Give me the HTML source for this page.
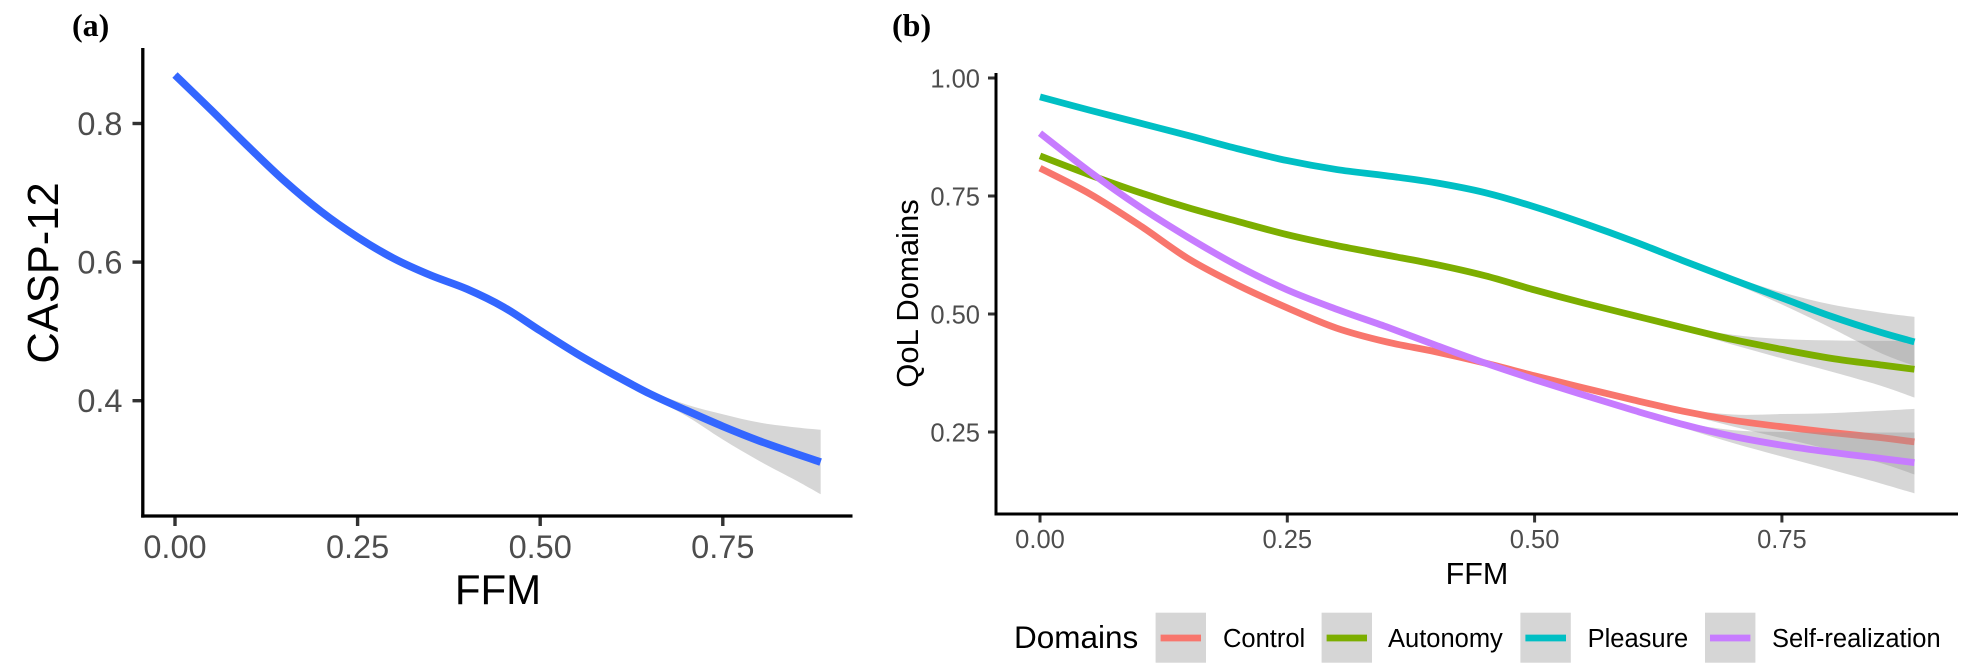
<!DOCTYPE html>
<html lang="en">
<head>
<meta charset="utf-8">
<title>CASP-12 and QoL Domains by FFM</title>
<style>
html,body{margin:0;padding:0;background:#fff;width:1984px;height:669px;overflow:hidden}
svg{display:block}
text{font-family:"Liberation Sans",Arial,sans-serif}
</style>
</head>
<body>
<svg id="chart" xmlns="http://www.w3.org/2000/svg" width="1984" height="669" viewBox="0 0 1984 669"></svg>
<script>
/* ---------- shared data ---------- */
const ffm = [0,0.05,0.10,0.15,0.20,0.25,0.30,0.35,0.40,0.45,0.50,0.55,0.60,0.65,0.70,0.75,0.80,0.85,0.884];

/* ---------- panel (a) ---------- */
const caspValues = [0.870,0.819,0.767,0.717,0.673,0.636,0.605,0.581,0.561,0.535,0.501,0.468,0.438,0.410,0.386,0.363,0.342,0.3235,0.3115];
const caspUpper  = [0.872,0.821,0.769,0.719,0.675,0.638,0.607,0.583,0.563,0.537,0.503,0.470,0.442,0.4145,0.3945,0.3805,0.3685,0.3615,0.358];
const caspLower  = [0.868,0.817,0.765,0.715,0.671,0.634,0.603,0.579,0.559,0.533,0.499,0.466,0.434,0.4055,0.378,0.344,0.313,0.285,0.265];
const leftXTicks = [0,0.25,0.50,0.75];
const leftXTickLabels = ["0.00","0.25","0.50","0.75"];
const leftYTicks = [0.4,0.6,0.8];
const leftYTickLabels = ["0.4","0.6","0.8"];

/* ---------- panel (b) ---------- */
const controlValues  = [0.809,0.755,0.689,0.617,0.561,0.513,0.470,0.441,0.420,0.396,0.369,0.343,0.318,0.294,0.275,0.261,0.249,0.238,0.229];
const controlUpper   = [0.811,0.757,0.691,0.619,0.563,0.515,0.472,0.443,0.422,0.398,0.371,0.345,0.320,0.299,0.287,0.288,0.290,0.295,0.299];
const controlLower   = [0.807,0.753,0.687,0.615,0.559,0.511,0.468,0.439,0.418,0.394,0.367,0.341,0.316,0.289,0.262,0.237,0.212,0.184,0.160];
const autonomyValues = [0.835,0.795,0.758,0.725,0.696,0.668,0.645,0.625,0.605,0.581,0.551,0.523,0.497,0.471,0.446,0.425,0.406,0.392,0.383];
const autonomyUpper  = [0.837,0.797,0.760,0.727,0.698,0.670,0.647,0.627,0.607,0.583,0.553,0.525,0.499,0.474,0.456,0.447,0.444,0.443,0.443];
const autonomyLower  = [0.833,0.793,0.756,0.723,0.694,0.666,0.643,0.623,0.603,0.579,0.549,0.521,0.495,0.466,0.435,0.406,0.378,0.348,0.323];
const pleasureValues = [0.960,0.932,0.905,0.878,0.850,0.825,0.806,0.793,0.778,0.757,0.727,0.692,0.654,0.613,0.573,0.534,0.495,0.461,0.441];
const pleasureUpper  = [0.962,0.934,0.907,0.880,0.852,0.827,0.808,0.795,0.780,0.759,0.729,0.694,0.656,0.617,0.579,0.546,0.520,0.503,0.494];
const pleasureLower  = [0.958,0.930,0.903,0.876,0.848,0.823,0.804,0.791,0.776,0.755,0.725,0.690,0.652,0.609,0.566,0.520,0.470,0.417,0.390];
const selfValues     = [0.883,0.802,0.728,0.662,0.602,0.551,0.510,0.473,0.434,0.396,0.361,0.328,0.296,0.266,0.241,0.222,0.207,0.194,0.185];
const selfUpper      = [0.885,0.804,0.730,0.664,0.604,0.553,0.512,0.475,0.436,0.398,0.363,0.330,0.298,0.271,0.254,0.250,0.249,0.249,0.249];
const selfLower      = [0.881,0.800,0.726,0.660,0.600,0.549,0.508,0.471,0.432,0.394,0.359,0.326,0.294,0.259,0.227,0.198,0.170,0.141,0.120];
const rightXTicks = [0,0.25,0.50,0.75];
const rightXTickLabels = ["0.00","0.25","0.50","0.75"];
const rightYTicks = [0.25,0.50,0.75,1.00];
const rightYTickLabels = ["0.25","0.50","0.75","1.00"];

/* ---------- axis functions ---------- */
function xA(v){return 175 + v*730.4;}
function yA(v){return 400.7 - (v-0.4)*693;}
function xB(v){return 1040 + v*989.2;}
function yB(v){return 78 + (1-v)*472;}

const svg = document.getElementById('chart');
const NS = 'http://www.w3.org/2000/svg';
function mk(tag, attrs, parent){
  const el = document.createElementNS(NS, tag);
  for (const k in attrs) el.setAttribute(k, attrs[k]);
  (parent||svg).appendChild(el);
  return el;
}
function txt(str, attrs, parent){
  const el = mk('text', attrs, parent);
  el.textContent = str;
  return el;
}
function smooth(pts, move){
  let d = (move?'M':'L') + pts[0][0].toFixed(2) + ' ' + pts[0][1].toFixed(2);
  for (let i=0;i<pts.length-1;i++){
    const p0=pts[Math.max(i-1,0)],p1=pts[i],p2=pts[i+1],p3=pts[Math.min(i+2,pts.length-1)];
    const c1x=p1[0]+(p2[0]-p0[0])/6,c1y=p1[1]+(p2[1]-p0[1])/6;
    const c2x=p2[0]-(p3[0]-p1[0])/6,c2y=p2[1]-(p3[1]-p1[1])/6;
    d+='C'+c1x.toFixed(2)+' '+c1y.toFixed(2)+' '+c2x.toFixed(2)+' '+c2y.toFixed(2)+' '+p2[0].toFixed(2)+' '+p2[1].toFixed(2);
  }
  return d;
}
function linePath(xs, ys, fx, fy){
  return smooth(xs.map((x,i)=>[fx(x),fy(ys[i])]), true);
}
function ribbonPath(xs, hi, lo, fx, fy){
  const up = xs.map((x,i)=>[fx(x),fy(hi[i])]);
  const dn = xs.map((x,i)=>[fx(x),fy(lo[i])]).reverse();
  return smooth(up,true) + smooth(dn,false) + 'Z';
}

/* ---------- panel (a) drawing ---------- */
const panelA = mk('g',{});



const ribbonA = mk('path',{d:ribbonPath(ffm,caspUpper,caspLower,xA,yA),fill:'#d6d6d6',stroke:'none'},panelA);



const lineA = mk('path',{d:linePath(ffm,caspValues,xA,yA),fill:'none',stroke:'#3366FF',"stroke-width":7.6},panelA);



leftXTicks.forEach((t,i)=>{
  const tick = mk('line',{x1:xA(t),x2:xA(t),y1:516,y2:526,stroke:'#333',"stroke-width":3.4},panelA);
  
  
  const lab = txt(leftXTickLabels[i],{x:xA(t),y:558,"text-anchor":'middle',"font-size":32.5,fill:'#4d4d4d'},panelA);
  
  
});
leftYTicks.forEach((t,i)=>{
  const tick = mk('line',{x1:132.5,x2:143,y1:yA(t),y2:yA(t),stroke:'#333',"stroke-width":3.4},panelA);
  
  
  const lab = txt(leftYTickLabels[i],{x:122.5,y:yA(t)+11.5,"text-anchor":'end',"font-size":32.5,fill:'#4d4d4d'},panelA);
  
  
});

const yAxisA = mk('line',{x1:142.8,x2:142.8,y1:48,y2:517.6,stroke:'#000',"stroke-width":3.3},panelA);


const xAxisA = mk('line',{x1:141.2,x2:852.5,y1:516,y2:516,stroke:'#000',"stroke-width":3.3},panelA);



const xTitleA = txt('FFM',{x:498,y:604,"text-anchor":'middle',"font-size":42,fill:'#000'},panelA);


const yTitleA = txt('CASP-12',{x:0,y:0,transform:'translate(58 273) rotate(-90)',"text-anchor":'middle',"font-size":43.5,fill:'#000'},panelA);


const tagA = txt('(a)',{x:72,y:36,"font-size":32,"font-weight":'bold',fill:'#000',style:'font-family:"Liberation Serif",serif'},panelA);



/* ---------- panel (b) drawing ---------- */
const panelB = mk('g',{});



const colorControl = '#F8766D', colorAutonomy = '#7CAE00', colorPleasure = '#00BFC4', colorSelf = '#C77CFF';

const bandControl = mk('path',{d:ribbonPath(ffm,controlUpper,controlLower,xB,yB),fill:'#999',"fill-opacity":0.4},panelB);


const lineControl = mk('path',{d:linePath(ffm,controlValues,xB,yB),fill:'none',stroke:colorControl,"stroke-width":6.8},panelB);



const bandAutonomy = mk('path',{d:ribbonPath(ffm,autonomyUpper,autonomyLower,xB,yB),fill:'#999',"fill-opacity":0.4},panelB);


const lineAutonomy = mk('path',{d:linePath(ffm,autonomyValues,xB,yB),fill:'none',stroke:colorAutonomy,"stroke-width":6.8},panelB);



const bandPleasure = mk('path',{d:ribbonPath(ffm,pleasureUpper,pleasureLower,xB,yB),fill:'#999',"fill-opacity":0.4},panelB);


const linePleasure = mk('path',{d:linePath(ffm,pleasureValues,xB,yB),fill:'none',stroke:colorPleasure,"stroke-width":6.8},panelB);



const bandSelf = mk('path',{d:ribbonPath(ffm,selfUpper,selfLower,xB,yB),fill:'#999',"fill-opacity":0.4},panelB);


const lineSelf = mk('path',{d:linePath(ffm,selfValues,xB,yB),fill:'none',stroke:colorSelf,"stroke-width":6.8},panelB);



rightXTicks.forEach((t,i)=>{
  const tick = mk('line',{x1:xB(t),x2:xB(t),y1:514,y2:522.5,stroke:'#333',"stroke-width":3},panelB);
  
  
  const lab = txt(rightXTickLabels[i],{x:xB(t),y:548,"text-anchor":'middle',"font-size":25.5,fill:'#4d4d4d'},panelB);
  
  
});
rightYTicks.forEach((t,i)=>{
  const tick = mk('line',{x1:988,x2:996,y1:yB(t),y2:yB(t),stroke:'#333',"stroke-width":3},panelB);
  
  
  const lab = txt(rightYTickLabels[i],{x:980,y:yB(t)+9.7,"text-anchor":'end',"font-size":25.5,fill:'#4d4d4d'},panelB);
  
  
});

const yAxisB = mk('line',{x1:996,x2:996,y1:73,y2:515.5,stroke:'#000',"stroke-width":3},panelB);


const xAxisB = mk('line',{x1:994.5,x2:1958,y1:514,y2:514,stroke:'#000',"stroke-width":3},panelB);



const xTitleB = txt('FFM',{x:1477,y:584,"text-anchor":'middle',"font-size":30.5,fill:'#000'},panelB);


const yTitleB = txt('QoL Domains',{x:0,y:0,transform:'translate(918 293.5) rotate(-90)',"text-anchor":'middle',"font-size":31,fill:'#000'},panelB);


const tagB = txt('(b)',{x:892,y:36,"font-size":32,"font-weight":'bold',fill:'#000',style:'font-family:"Liberation Serif",serif'},panelB);



/* ---------- legend ---------- */
const legend = mk('g',{});


const legendTitle = txt('Domains',{x:1014,y:648,"font-size":31.5,fill:'#000'},legend);



const keyControl = mk('rect',{x:1155.6,y:612.7,width:50.4,height:50,fill:'#d6d6d6'},legend);


const swatchControl = mk('line',{x1:1160.6,x2:1201,y1:638,y2:638,stroke:colorControl,"stroke-width":6.8},legend);


const labelControl = txt('Control',{x:1223,y:647,"font-size":25.5,fill:'#000'},legend);



const keyAutonomy = mk('rect',{x:1321.6,y:612.7,width:50.4,height:50,fill:'#d6d6d6'},legend);


const swatchAutonomy = mk('line',{x1:1326.6,x2:1367,y1:638,y2:638,stroke:colorAutonomy,"stroke-width":6.8},legend);


const labelAutonomy = txt('Autonomy',{x:1388,y:647,"font-size":25.5,fill:'#000'},legend);



const keyPleasure = mk('rect',{x:1520.4,y:612.7,width:50.4,height:50,fill:'#d6d6d6'},legend);


const swatchPleasure = mk('line',{x1:1525.4,x2:1566,y1:638,y2:638,stroke:colorPleasure,"stroke-width":6.8},legend);


const labelPleasure = txt('Pleasure',{x:1587.6,y:647,"font-size":25.5,fill:'#000'},legend);



const keySelf = mk('rect',{x:1705,y:612.7,width:50.4,height:50,fill:'#d6d6d6'},legend);


const swatchSelf = mk('line',{x1:1710,x2:1750.4,y1:638,y2:638,stroke:colorSelf,"stroke-width":6.8},legend);


const labelSelf = txt('Self-realization',{x:1772,y:647,"font-size":25.5,fill:'#000'},legend);


</script>
</body>
</html>
